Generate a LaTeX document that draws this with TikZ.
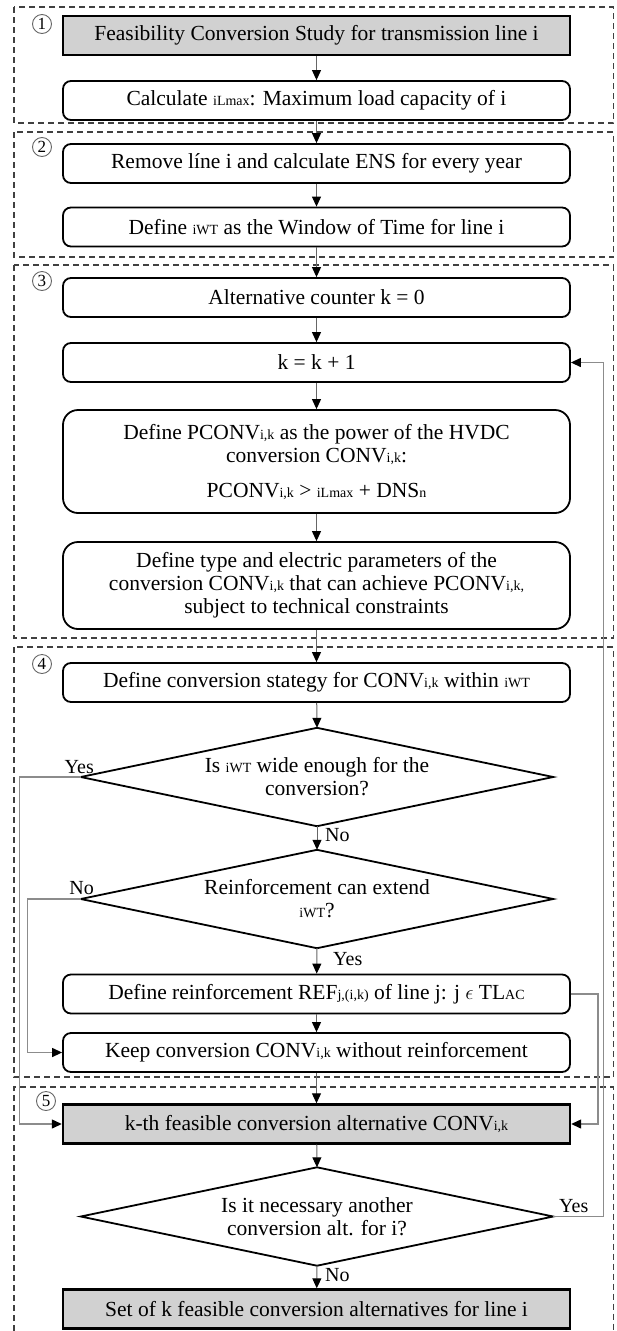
\documentclass[tikz,border=0pt]{standalone}
\usepackage{fontspec}
\setmainfont{Liberation Serif}
\usetikzlibrary{arrows.meta}
\newcommand{\sm}[1]{{\fontsize{14}{14}\selectfont #1}}
\newcommand{\bodyfont}{\fontsize{21.5}{23}\selectfont}
\begin{document}
\begin{tikzpicture}[x=1pt,y=-1pt,
  proc/.style={draw=black, line width=1.8pt, rounded corners=8pt, fill=white,
    minimum width=507pt, minimum height=39pt, inner sep=0pt, align=center, font=\bodyfont},
  term/.style={proc, rounded corners=0pt, fill=black!18, line width=2.4pt},
  bigbox/.style={proc, rounded corners=15pt},
  dec/.style={minimum width=472pt, minimum height=98pt, inner sep=0pt, align=center, font=\bodyfont},
  decline/.style={draw=black, line width=1.8pt, line join=miter},
  sect/.style={draw=black!75, dash pattern=on 6pt off 4pt, line width=1.1pt},
  num/.style={circle, draw=black!60, line width=0.9pt, minimum size=19pt, inner sep=0pt,
    font=\fontsize{17}{17}\selectfont},
  arr/.style={draw=black!60, line width=1pt, -{Triangle[length=10pt,width=9pt,color=black,fill=black]}},
  side/.style={draw=black!45, line width=1.3pt, -{Triangle[length=10pt,width=9pt,color=black,fill=black]}},
  lab/.style={inner sep=0pt, font=\fontsize{20}{20}\selectfont}
]
\useasboundingbox (0,0) rectangle (616,1331);

% section frames
\draw[sect] (14,7) rectangle (613.5,123);
\draw[sect] (14,132) rectangle (613.5,257);
\draw[sect] (14,265) rectangle (613.5,638);
\draw[sect] (14,647) rectangle (613.5,1077);
\draw[sect] (14,1331) -- (14,1087) -- (613.5,1087) -- (613.5,1331);

% section numbers
\node[num] (c1) at (42,24) {1};
\node[num] (c2) at (42,147) {2};
\node[num] (c3) at (42,281) {3};
\node[num] (c4) at (42,664) {4};
\node[num] (c5) at (46,1101) {5};

% nodes
\node[term] (n1) at (316.5,35.5) {Feasibility Conversion Study for transmission line i};
\node[proc] (n2) at (316.5,100.5) {Calculate \sm{iLmax}: Maximum load capacity of i};
\node[proc] (n3) at (316.5,163.5) {Remove líne i and calculate ENS for every year};
\node[proc] (n4) at (316.5,227) {Define \sm{iWT} as the Window of Time for line i};
\node[proc] (n5) at (316.5,297.5) {Alternative counter k = 0};
\node[proc] (n6) at (316.5,362.5) {k = k + 1};
\node[bigbox, minimum height=103pt] (n7) at (316.5,461.5)
  {Define PCONV\sm{i,k} as the power of the HVDC\\conversion CONV\sm{i,k}:\\[12pt]PCONV\sm{i,k} > \sm{iLmax} + DNS\sm{n}};
\node[bigbox, minimum height=87pt] (n8) at (316.5,585.5)
  {Define type and electric parameters of the\\conversion CONV\sm{i,k} that can achieve PCONV\sm{i,k,}\\subject to technical constraints};
\node[proc] (n9) at (316.5,682.5) {Define conversion stategy for CONV\sm{i,k} within \sm{iWT}};
\node[dec] (d1) at (317,777) {Is \sm{iWT} wide enough for the\\conversion?};
\node[dec] (d2) at (317,899) {Reinforcement can extend\\\sm{iWT}?};
\node[proc] (n10) at (316.5,994) {Define reinforcement REF\sm{j,(i,k)} of line j: j $\epsilon$ TL\sm{AC}};
\node[proc] (n11) at (316.5,1052.5) {Keep conversion CONV\sm{i,k} without reinforcement};
\node[term] (n12) at (316.5,1124) {k-th feasible conversion alternative CONV\sm{i,k}};
\node[dec] (d3) at (317,1216.5) {Is it necessary another\\conversion alt. for i?};
\node[term] (n13) at (316.5,1309) {Set of k feasible conversion alternatives for line i};

% diamond outlines
\foreach \d in {d1,d2,d3}{
  \draw[decline] (\d.north) -- (\d.east) -- (\d.south) -- (\d.west) -- cycle;
}

% main flow
\draw[arr] (n1) -- (n2);
\draw[arr] (n2) -- (n3);
\draw[arr] (n3) -- (n4);
\draw[arr] (n4) -- (n5);
\draw[arr] (n5) -- (n6);
\draw[arr] (n6) -- (n7);
\draw[arr] (n7) -- (n8);
\draw[arr] (n8) -- (n9);
\draw[arr] (n9) -- (d1.north);
\draw[arr] (d1.south) -- (d2.north);
\draw[arr] (d2.south) -- (n10);
\draw[arr] (n10) -- (n11);
\draw[arr] (n11) -- (n12);
\draw[arr] (n12) -- (d3.north);
\draw[arr] (d3.south) -- (n13);

% side connectors
\draw[side] (d1.west) -- ++(-61,0) |- (n12.west);
\draw[side] (d2.west) -- ++(-53,0) |- (n11.west);
\draw[side] (n10.east) -- ++(27,0) |- (n12.east);
\draw[side] (d3.east) -- ++(50,0) |- (n6.east);

% labels
\node[lab, anchor=base east] (l1) at (94,773) {Yes};
\node[lab, anchor=base west] (l2) at (325,841) {No};
\node[lab, anchor=base east] (l3) at (94,894) {No};
\node[lab, anchor=base west] (l4) at (333,965) {Yes};
\node[lab, anchor=base west] (l5) at (559,1212) {Yes};
\node[lab, anchor=base west] (l6) at (325,1281) {No};
\end{tikzpicture}
\end{document}
